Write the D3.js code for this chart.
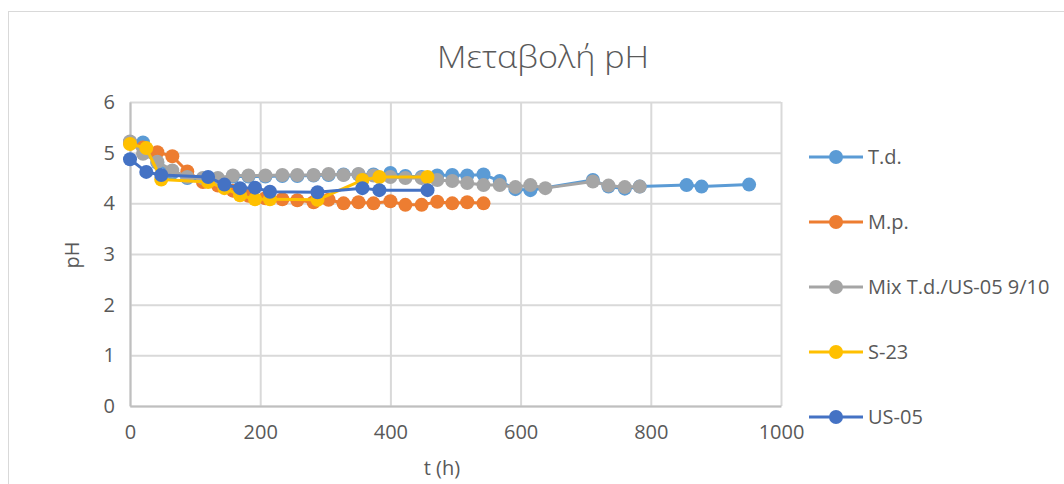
<!DOCTYPE html>
<html>
<head>
<meta charset="utf-8">
<script src="https://cdn.jsdelivr.net/npm/d3@7"></script>
<style>
  html, body { margin: 0; padding: 0; background: #ffffff; }
  svg { display: block; }
  text { font-family: "Open Sans", "Noto Sans", sans-serif; fill: #595959; }
</style>
</head>
<body>
<svg id="chart" width="1064" height="484"></svg>
<script>
// pH over fermentation time (hours) for five yeast cultures
const seriesNames = ["T.d.", "M.p.", "Mix T.d./US-05 9/10", "S-23", "US-05"];
const seriesColors = ["#5B9BD5", "#ED7D31", "#A5A5A5", "#FFC000", "#4472C4"];

const tdHours = [0, 20, 42, 65, 88, 112, 135, 158, 182, 208, 234, 257, 282, 305, 328, 351, 374, 400, 423, 448, 472, 495, 518, 543, 568, 592, 615, 711, 735, 760, 783, 855, 878, 951];
const tdPH    = [5.2, 5.2, 4.8, 4.6, 4.5, 4.48, 4.48, 4.53, 4.53, 4.53, 4.54, 4.54, 4.55, 4.56, 4.57, 4.57, 4.57, 4.6, 4.54, 4.52, 4.55, 4.56, 4.55, 4.57, 4.44, 4.28, 4.26, 4.46, 4.33, 4.29, 4.33, 4.36, 4.33, 4.37];

const mpHours = [0, 20, 42, 65, 88, 112, 135, 158, 182, 208, 234, 257, 282, 305, 328, 351, 374, 400, 423, 448, 472, 495, 518, 543];
const mpPH    = [5.2, 5.1, 5.01, 4.93, 4.63, 4.42, 4.35, 4.25, 4.15, 4.1, 4.08, 4.06, 4.02, 4.07, 4.0, 4.02, 4.0, 4.04, 3.97, 3.97, 4.03, 4.0, 4.02, 4.0];

const mixHours = [0, 20, 42, 65, 88, 112, 135, 158, 182, 208, 234, 257, 282, 305, 328, 351, 374, 400, 423, 448, 472, 495, 518, 543, 568, 592, 615, 638, 711, 735, 760, 783];
const mixPH    = [5.22, 4.98, 4.82, 4.65, 4.52, 4.5, 4.5, 4.55, 4.55, 4.55, 4.56, 4.56, 4.56, 4.58, 4.56, 4.58, 4.55, 4.52, 4.5, 4.5, 4.46, 4.44, 4.4, 4.36, 4.36, 4.32, 4.36, 4.3, 4.43, 4.35, 4.32, 4.33];

const s23Hours = [0, 25, 48, 120, 145, 169, 192, 215, 288, 357, 383, 457];
const s23PH    = [5.17, 5.09, 4.47, 4.42, 4.3, 4.16, 4.08, 4.08, 4.07, 4.46, 4.52, 4.52];

const us05Hours = [0, 25, 48, 120, 145, 169, 192, 215, 288, 357, 383, 457];
const us05PH    = [4.87, 4.62, 4.56, 4.52, 4.37, 4.3, 4.31, 4.23, 4.22, 4.3, 4.26, 4.26];

const xTicks = [0, 200, 400, 600, 800, 1000];
const yTicks = [0, 1, 2, 3, 4, 5, 6];

const hourLists = [tdHours, mpHours, mixHours, s23Hours, us05Hours];
const phLists = [tdPH, mpPH, mixPH, s23PH, us05PH];
const series = seriesNames.map((name, i) => ({
  name,
  color: seriesColors[i],
  points: hourLists[i].map((t, j) => ({ t, ph: phLists[i][j] }))
}));

const svg = d3.select("#chart");
const plot = { left: 130, right: 781, top: 102, bottom: 406 };

const x = d3.scaleLinear().domain([0, 1000]).range([plot.left, plot.right]);
const y = d3.scaleLinear().domain([0, 6]).range([plot.bottom, plot.top]);

// chart frame
svg.append("rect")
  .attr("x", 8.5).attr("y", 11.5)
  .attr("width", 1100).attr("height", 520)
  .attr("fill", "none").attr("stroke", "#d9d9d9").attr("stroke-width", 1);

// title
svg.append("text")
  .attr("x", 543).attr("y", 68)
  .attr("text-anchor", "middle")
  .style("font-size", "31px")
  .style("font-weight", 300)
  .attr("textLength", 212)
  .attr("lengthAdjust", "spacingAndGlyphs")
  .text("Μεταβολή pH");

// gridlines
const grid = svg.append("g");
grid.selectAll("line.h").data(yTicks).join("line")
  .attr("x1", plot.left).attr("x2", plot.right)
  .attr("y1", d => y(d) + 0.5).attr("y2", d => y(d) + 0.5)
  .attr("stroke", "#d9d9d9").attr("stroke-width", 2);
grid.selectAll("line.v").data(xTicks).join("line")
  .attr("y1", plot.top).attr("y2", plot.bottom)
  .attr("x1", d => x(d) + 0.5).attr("x2", d => x(d) + 0.5)
  .attr("stroke", "#d9d9d9").attr("stroke-width", 2);

// axes
const xAxis = d3.axisBottom(x).tickValues(xTicks).tickFormat(d3.format("d")).tickSize(0).tickPadding(19);
const yAxis = d3.axisLeft(y).tickValues(yTicks).tickFormat(d3.format("d")).tickSize(0).tickPadding(15);

const gx = svg.append("g").attr("transform", `translate(0,${plot.bottom})`).call(xAxis);
const gy = svg.append("g").attr("transform", `translate(${plot.left},0)`).call(yAxis);
[gx, gy].forEach(g => {
  g.select(".domain").attr("stroke", "#bfbfbf").attr("stroke-width", 2);
  g.selectAll("text").style("font-size", "20px").style("font-family", "'Open Sans', sans-serif").attr("fill", "#595959");
});

// axis titles
svg.append("text")
  .attr("x", 442).attr("y", 475)
  .attr("text-anchor", "middle")
  .style("font-size", "20px")
  .text("t (h)");
svg.append("text")
  .attr("transform", "translate(79,255) rotate(-90)")
  .attr("text-anchor", "middle")
  .style("font-size", "20px")
  .text("pH");

// series lines and markers
const line = d3.line().x(d => x(d.t)).y(d => y(d.ph));
series.forEach(s => {
  const g = svg.append("g");
  g.append("path")
    .datum(s.points)
    .attr("d", line)
    .attr("fill", "none")
    .attr("stroke", s.color)
    .attr("stroke-width", 3)
    .attr("stroke-linejoin", "round");
  g.selectAll("circle").data(s.points).join("circle")
    .attr("cx", d => x(d.t)).attr("cy", d => y(d.ph))
    .attr("r", 7)
    .attr("fill", s.color);
});

// legend
const legendY = d3.scalePoint().domain(seriesNames).range([157, 417]);
const legend = svg.append("g");
series.forEach(s => {
  const ly = legendY(s.name);
  legend.append("line")
    .attr("x1", 809).attr("x2", 863)
    .attr("y1", ly).attr("y2", ly)
    .attr("stroke", s.color).attr("stroke-width", 3);
  legend.append("circle")
    .attr("cx", 836).attr("cy", ly).attr("r", 7)
    .attr("fill", s.color);
  legend.append("text")
    .attr("x", 868).attr("y", ly)
    .attr("dy", "0.35em")
    .style("font-size", "20px")
    .text(s.name);
});
</script>
</body>
</html>
